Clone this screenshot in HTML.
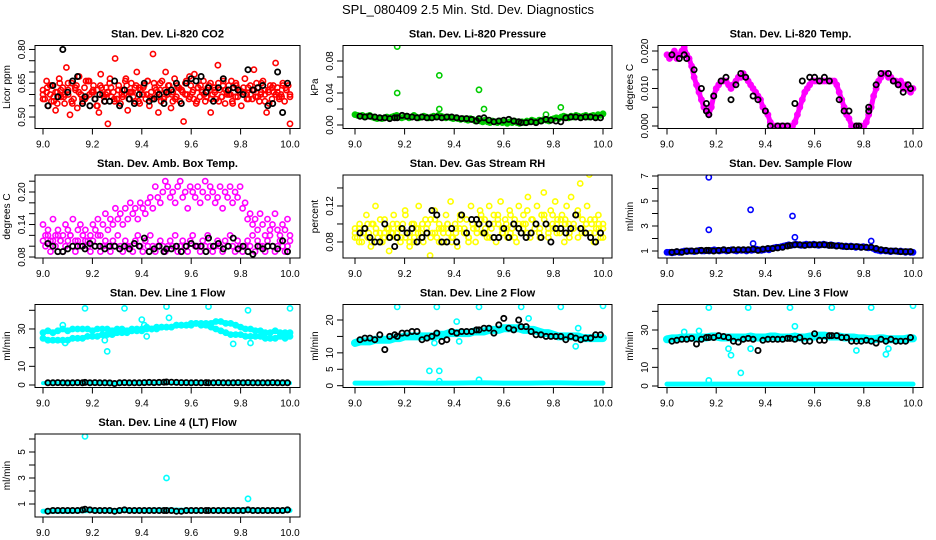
<!DOCTYPE html>
<html><head><meta charset="utf-8"><style>
body{margin:0;background:#fff;width:936px;height:540px;overflow:hidden}
svg{display:block;font-family:"Liberation Sans",Arial,sans-serif}
</style></head><body>
<svg id="chart" width="936" height="540" viewBox="0 0 936 540" xmlns="http://www.w3.org/2000/svg">
<rect width="936" height="540" fill="#fff"/>
<text x="468" y="14" text-anchor="middle" font-size="13">SPL_080409  2.5 Min. Std. Dev. Diagnostics</text>
</svg>
<script>
// ---- shared time stamps of black (sub-sampled) series ----
const blackTimes=[9.02,9.04,9.06,9.08,9.10,9.12,9.14,9.16,9.17,9.19,9.21,9.23,9.25,9.27,9.29,9.31,9.33,9.35,9.37,9.39,9.41,9.43,9.45,9.47,9.49,9.50,9.52,9.54,9.56,9.58,9.60,9.62,9.64,9.66,9.67,9.69,9.71,9.73,9.75,9.77,9.79,9.81,9.83,9.85,9.87,9.89,9.91,9.93,9.95,9.97,9.99];
const xTicks=[9.0,9.2,9.4,9.6,9.8,10.0];
const xTickLabels=["9.0","9.2","9.4","9.6","9.8","10.0"];
// ---- panel 1 CO2 ----
const co2Values=[0.62,0.58,0.66,0.55,0.60,0.64,0.57,0.53,0.61,0.67,0.59,0.63,0.56,0.72,0.60,0.51,0.65,0.58,0.62,0.54,0.68,0.60,0.57,0.63,0.59,0.66,0.55,0.61,0.64,0.58,0.62,0.52,0.69,0.60,0.57,0.63,0.47,0.65,0.59,0.61,0.76,0.58,0.64,0.56,0.62,0.60,0.67,0.53,0.61,0.65,0.59,0.63,0.70,0.57,0.62,0.60,0.64,0.58,0.66,0.55,0.61,0.78,0.63,0.59,0.52,0.62,0.66,0.58,0.70,0.60,0.64,0.54,0.61,0.67,0.59,0.63,0.57,0.62,0.48,0.65,0.60,0.58,0.64,0.61,0.69,0.56,0.63,0.59,0.62,0.66,0.57,0.61,0.64,0.52,0.60,0.63,0.58,0.73,0.62,0.59,0.66,0.56,0.61,0.64,0.60,0.57,0.63,0.65,0.59,0.62,0.55,0.61,0.67,0.60,0.58,0.64,0.62,0.71,0.59,0.63,0.57,0.61,0.66,0.60,0.52,0.62,0.64,0.58,0.61,0.74,0.63,0.59,0.60,0.65,0.57,0.62,0.64,0.47];
const co2Values2=[0.60,0.63,0.57,0.61,0.65,0.59,0.62,0.56,0.64,0.60,0.58,0.66,0.61,0.55,0.63,0.60,0.67,0.58,0.62,0.59,0.64,0.61,0.57,0.63,0.60,0.66,0.58,0.62,0.65,0.59,0.61,0.57,0.64,0.62,0.60,0.68,0.58,0.63,0.61,0.59,0.65,0.62,0.57,0.64,0.60,0.66,0.59,0.62,0.61,0.63,0.58,0.65,0.60,0.62,0.56,0.64,0.61,0.59,0.63,0.60];
const co2Values3=[0.58,0.61,0.64,0.59,0.56,0.62,0.60,0.65,0.57,0.63,0.61,0.58,0.66,0.60,0.62,0.55,0.64,0.59,0.61,0.63,0.57,0.62,0.60,0.66,0.58,0.61,0.64,0.56,0.63,0.60,0.59,0.65,0.61,0.57,0.62,0.64,0.60,0.58,0.63,0.61,0.66,0.59,0.62,0.57,0.64,0.60,0.63,0.58,0.61,0.65,0.59,0.62,0.60,0.56,0.64,0.61,0.63,0.58,0.60,0.62,0.59,0.65,0.57,0.61,0.63,0.60,0.58,0.64,0.62,0.59];
const co2Black=[0.55,0.64,0.59,0.80,0.61,0.66,0.68,0.56,0.59,0.55,0.58,0.60,0.57,0.57,0.66,0.55,0.62,0.58,0.56,0.60,0.65,0.57,0.58,0.60,0.56,0.61,0.62,0.65,0.56,0.65,0.67,0.66,0.68,0.61,0.63,0.57,0.63,0.67,0.62,0.63,0.62,0.60,0.71,0.62,0.63,0.64,0.55,0.56,0.70,0.52,0.65];
// ---- panel 2 pressure ----
const pressValues=[0.013,0.012,0.011,0.012,0.010,0.011,0.012,0.010,0.009,0.008,0.009,0.008,0.009,0.010,0.009,0.010,0.011,0.012,0.010,0.009,0.010,0.011,0.009,0.010,0.012,0.010,0.009,0.010,0.011,0.010,0.009,0.010,0.011,0.010,0.012,0.011,0.010,0.009,0.010,0.009,0.008,0.009,0.008,0.007,0.008,0.007,0.006,0.008,0.007,0.005,0.006,0.005,0.004,0.006,0.004,0.003,0.005,0.004,0.003,0.005,0.003,0.004,0.002,0.004,0.003,0.005,0.003,0.002,0.004,0.003,0.005,0.004,0.006,0.005,0.004,0.006,0.005,0.007,0.006,0.005,0.007,0.008,0.009,0.008,0.010,0.011,0.010,0.009,0.011,0.010,0.012,0.011,0.010,0.011,0.012,0.010,0.011,0.012,0.011,0.013,0.012,0.014];
const pressOutT=[9.17,9.17,9.34,9.34,9.50,9.52,9.77,9.83];
const pressOutV=[0.098,0.040,0.062,0.020,0.044,0.020,0.013,0.022];
const pressBlack=[0.011,0.010,0.011,0.010,0.009,0.009,0.008,0.009,0.009,0.012,0.011,0.010,0.009,0.010,0.009,0.009,0.010,0.009,0.010,0.010,0.009,0.008,0.008,0.007,0.005,0.008,0.009,0.006,0.004,0.005,0.006,0.007,0.005,0.004,0.003,0.003,0.004,0.003,0.005,0.007,0.006,0.005,0.004,0.009,0.010,0.010,0.009,0.010,0.010,0.009,0.009];
// ---- panel 3 Li-820 temp ----
const tempValues=[0.019,0.018,0.019,0.020,0.018,0.019,0.020,0.021,0.019,0.018,0.016,0.013,0.011,0.009,0.007,0.005,0.004,0.003,0.005,0.008,0.010,0.011,0.012,0.012,0.012,0.011,0.010,0.011,0.012,0.013,0.013,0.014,0.013,0.012,0.011,0.010,0.009,0.008,0.007,0.005,0.004,0.003,0.001,0.000,0.000,0.000,0.000,0.000,0.000,0.000,0.000,0.000,0.001,0.003,0.005,0.007,0.009,0.010,0.011,0.012,0.012,0.012,0.012,0.012,0.012,0.012,0.012,0.012,0.012,0.011,0.009,0.007,0.005,0.003,0.002,0.000,0.000,0.000,0.000,0.000,0.000,0.001,0.003,0.005,0.008,0.010,0.012,0.013,0.014,0.014,0.013,0.013,0.012,0.012,0.011,0.012,0.010,0.011,0.010,0.009,0.010];
const tempBlackT=[9.02,9.05,9.07,9.08,9.11,9.14,9.16,9.16,9.17,9.19,9.22,9.24,9.26,9.28,9.30,9.32,9.35,9.37,9.40,9.42,9.45,9.47,9.49,9.52,9.55,9.58,9.60,9.62,9.64,9.66,9.70,9.72,9.74,9.77,9.78,9.82,9.82,9.85,9.87,9.90,9.92,9.94,9.96,9.98,9.99];
const tempBlackV=[0.019,0.018,0.019,0.018,0.015,0.010,0.006,0.004,0.003,0.008,0.012,0.013,0.007,0.011,0.014,0.013,0.008,0.007,0.004,0.000,0.000,0.000,0.000,0.006,0.012,0.013,0.013,0.012,0.013,0.012,0.007,0.004,0.004,0.000,0.000,0.004,0.005,0.011,0.014,0.014,0.012,0.011,0.009,0.011,0.010];
// ---- panel 4 amb box temp ----
const ambUpper=[0.14,0.12,0.13,0.11,0.15,0.12,0.13,0.11,0.12,0.14,0.13,0.12,0.15,0.11,0.13,0.14,0.12,0.13,0.11,0.12,0.14,0.13,0.15,0.12,0.14,0.16,0.13,0.15,0.14,0.17,0.15,0.16,0.14,0.17,0.15,0.18,0.16,0.17,0.15,0.18,0.17,0.16,0.18,0.19,0.17,0.21,0.19,0.18,0.20,0.22,0.21,0.19,0.20,0.18,0.21,0.22,0.19,0.20,0.17,0.21,0.20,0.19,0.21,0.18,0.20,0.22,0.19,0.21,0.20,0.18,0.19,0.21,0.17,0.20,0.19,0.21,0.18,0.20,0.19,0.21,0.17,0.18,0.15,0.16,0.14,0.15,0.13,0.16,0.14,0.12,0.15,0.13,0.14,0.16,0.13,0.12,0.14,0.13,0.15,0.12];
const ambLower=[0.11,0.10,0.12,0.09,0.11,0.10,0.12,0.11,0.09,0.10,0.11,0.12,0.10,0.09,0.11,0.10,0.12,0.11,0.10,0.09,0.11,0.10,0.12,0.09,0.10,0.11,0.10,0.09,0.11,0.10,0.12,0.10,0.09,0.11,0.10,0.10,0.09,0.11,0.12,0.10,0.09,0.11,0.10,0.12,0.10,0.09,0.10,0.11,0.10,0.09,0.10,0.11,0.10,0.12,0.09,0.10,0.11,0.10,0.09,0.11,0.12,0.10,0.10,0.09,0.11,0.10,0.12,0.10,0.09,0.10,0.11,0.10,0.09,0.11,0.10,0.12,0.10,0.09,0.11,0.10,0.09,0.10,0.11,0.10,0.12,0.09,0.11,0.10,0.10,0.09,0.11,0.12,0.10,0.09,0.10,0.11,0.10,0.09,0.10,0.11];
const ambBlack=[0.105,0.10,0.09,0.09,0.095,0.10,0.10,0.10,0.095,0.105,0.10,0.10,0.095,0.10,0.10,0.095,0.10,0.095,0.105,0.10,0.115,0.09,0.095,0.10,0.09,0.095,0.095,0.10,0.09,0.10,0.105,0.10,0.10,0.09,0.115,0.10,0.105,0.095,0.10,0.115,0.095,0.10,0.09,0.085,0.10,0.095,0.10,0.10,0.095,0.11,0.09];
// ---- panel 5 gas stream RH ----
const rhValues=[0.09,0.085,0.10,0.08,0.095,0.11,0.09,0.075,0.10,0.12,0.085,0.09,0.08,0.105,0.095,0.07,0.09,0.11,0.085,0.095,0.08,0.10,0.115,0.09,0.075,0.10,0.085,0.095,0.12,0.09,0.08,0.105,0.10,0.065,0.09,0.115,0.085,0.10,0.095,0.08,0.11,0.09,0.125,0.085,0.10,0.075,0.095,0.11,0.09,0.105,0.085,0.12,0.095,0.08,0.10,0.115,0.09,0.105,0.085,0.12,0.095,0.11,0.08,0.10,0.125,0.09,0.105,0.085,0.115,0.095,0.10,0.08,0.12,0.09,0.11,0.10,0.13,0.085,0.105,0.095,0.12,0.09,0.11,0.135,0.10,0.085,0.115,0.095,0.125,0.105,0.09,0.11,0.08,0.12,0.10,0.13,0.095,0.11,0.085,0.145,0.105,0.09,0.12,0.155,0.10,0.08,0.095,0.11,0.085,0.10];
const rhValues2=[0.085,0.095,0.09,0.10,0.08,0.09,0.105,0.085,0.095,0.09,0.10,0.085,0.11,0.09,0.08,0.095,0.10,0.09,0.085,0.105,0.095,0.09,0.10,0.08,0.095,0.11,0.09,0.085,0.10,0.095,0.105,0.09,0.10,0.085,0.11,0.095,0.10,0.09,0.105,0.095,0.10,0.115,0.09,0.10,0.095,0.105,0.09,0.11,0.10,0.095,0.105,0.09,0.10,0.115,0.095,0.10,0.09,0.105,0.10,0.095];
const rhValues3=[0.095,0.08,0.09,0.085,0.10,0.095,0.08,0.09,0.085,0.10,0.09,0.095,0.085,0.08,0.10,0.09,0.085,0.095,0.105,0.09,0.08,0.095,0.10,0.085,0.09,0.105,0.095,0.08,0.10,0.09,0.11,0.095,0.085,0.10,0.105,0.09,0.095,0.11,0.085,0.10,0.095,0.09,0.105,0.10,0.085,0.11,0.095,0.10,0.09,0.105,0.10,0.085,0.095,0.11,0.09,0.10,0.105,0.09,0.095,0.085];
const rhBlack=[0.09,0.095,0.085,0.08,0.08,0.10,0.085,0.075,0.085,0.095,0.09,0.095,0.08,0.085,0.09,0.115,0.11,0.08,0.08,0.095,0.08,0.11,0.09,0.105,0.105,0.10,0.09,0.10,0.085,0.085,0.095,0.085,0.10,0.095,0.09,0.085,0.09,0.10,0.085,0.10,0.08,0.095,0.095,0.09,0.095,0.11,0.095,0.09,0.085,0.08,0.09];
// ---- panel 6 sample flow ----
const flowValues=[0.9,0.9,0.85,0.9,0.95,0.9,0.95,1.0,0.95,1.0,1.0,0.95,1.0,1.05,1.0,1.0,1.05,1.0,1.05,1.1,1.05,1.0,1.05,1.1,1.0,1.05,1.1,1.05,1.0,1.1,1.05,1.1,1.0,1.1,1.05,1.1,1.15,1.1,1.05,1.1,1.15,1.1,1.2,1.25,1.3,1.3,1.35,1.4,1.45,1.5,1.45,1.5,1.55,1.5,1.45,1.5,1.55,1.5,1.5,1.55,1.5,1.45,1.5,1.55,1.5,1.45,1.5,1.45,1.4,1.45,1.4,1.35,1.4,1.35,1.4,1.35,1.3,1.35,1.3,1.35,1.3,1.25,1.3,1.2,1.1,1.05,1.0,1.05,1.0,1.0,0.95,1.0,1.0,0.95,1.0,0.95,0.9,0.95,0.9,0.9];
const flowOutT=[9.17,9.17,9.34,9.35,9.51,9.52,9.83];
const flowOutV=[6.9,2.7,4.3,1.6,3.8,2.1,1.8];
const flowBlack=[0.9,0.95,0.9,1.0,1.0,1.0,1.05,1.05,1.05,1.0,1.05,1.1,1.05,1.1,1.1,1.1,1.1,1.15,1.05,1.15,1.2,1.2,1.25,1.3,1.4,1.45,1.5,1.5,1.45,1.5,1.5,1.5,1.5,1.45,1.45,1.4,1.4,1.35,1.35,1.35,1.3,1.3,1.3,1.2,1.1,1.05,1.0,1.0,0.95,0.95,0.95];
// ---- panel 7 line 1 flow ----
const l1Upper=[28,29,28,29,30,29,30,30,30,30,29,30,30,30,29,30,30,29,30,30,30,31,30,31,31,31,31,32,32,32,32,33,33,33,33,34,34,33,33,32,31,30,30,29,29,28,28,29,28,28,28];
const l1Lower=[25,24,24,24,24,24,25,25,25,26,26,26,27,27,27,28,28,28,29,29,29,30,30,30,31,31,31,32,32,32,33,33,32,32,31,30,29,28,27,27,27,26,26,26,26,25,25,25,26,25,26];
const l1Low=[1,1,1,1,1,1,1,1,1,1,1];
const l1OutT=[9.17,9.33,9.50,9.67,9.83,10.0,9.26,9.77,9.84,9.09,9.25,9.40,9.51,9.08,9.41,9.42];
const l1OutV=[41,41,42,42,40,41,18,22,22.5,22.5,24,35,36,32,32,26];
const l1Black=[1.2,1.2,1.3,1.2,1.1,1.2,1.3,1.2,1.4,1.2,1.3,1.2,1.2,1.1,0.8,1.2,1.3,1.2,1.2,1.2,1.3,1.4,1.3,1.4,1.5,1.6,1.5,1.4,1.3,1.3,1.2,1.3,1.2,1.3,1.2,1.2,1.3,1.2,1.2,1.2,1.3,1.2,1.3,1.2,1.2,1.2,1.2,1.3,1.2,1.2,1.2];
// ---- panel 8 line 2 flow ----
const l2Band=[13,13.5,13.5,13.5,14,14,14,14,14.5,14.5,15,15,15,15,15,15,15,15.5,15.5,16,16,16,16,16,16.5,16.5,16.5,17,17,17,17.5,17.5,17.5,17.5,17,17,17,16.5,16,16,15.5,15,15,15,15,15,14.5,14.5,14.5,14.5,14.5];
const l2Low=[0.8,0.8,0.9,0.8,0.8,0.9,0.8,0.8,0.9,0.8,0.8];
const l2OutT=[9.17,9.33,9.50,9.67,9.83,10.0,9.30,9.34,9.32,9.41,9.42,9.70,9.89,9.90,9.50,9.34];
const l2OutV=[24,24,24,24,24,24.3,4.5,4.5,13,19.5,13.5,20.5,12,17.5,1.8,1.4];
const l2Black=[14,14.5,14.5,14,15.5,11,15,15.5,15,16,16,16.5,16.5,14,14.5,15,16,13.5,14,16.5,16,16.5,16.5,16.5,17,17,17.5,17.5,16,18.5,20.5,17.5,17,20,18,18,16.5,15.5,15.5,15,15,15,15,14,15,14.5,14,14.5,14.5,15.5,15.5];
// ---- panel 9 line 3 flow ----
const l3Band=[25,25.5,25.5,26,26,26,26,26,26,26.5,26.5,26,26,26,26,26,26,26.5,26,26,26,26.5,26.5,26,26,26,26.5,26,26,26.5,26.5,27,27,26.5,26.5,26.5,26,26,26,25.5,25.5,25,25,25.5,25.5,25,25,25,25,25.5,25.5];
const l3Low=[1,1,1,1,1,1,1,1,1,1,1];
const l3OutT=[9.17,9.33,9.50,9.67,9.83,10.0,9.52,9.30,9.26,9.25,9.34,9.77,9.89,9.90,9.17,9.07,9.13];
const l3OutV=[42,42,42,42,42,43,32,7,16.5,20,20,19,17,20,3,29,29.5];
const l3Black=[24,24.5,25,25,25.5,22.5,25,26,26,26,27,26.5,26,24,23.5,25,25.5,25,19,24.5,25,25,25,25,25.5,25.5,25,26,24,24,28,24.5,24.5,27,27,27,26,26,24,24,24,24.5,24,23,25,24,25,24,24,24,26];
// ---- panel 10 line 4 flow ----
const l4Band=[0.45,0.45,0.5,0.5,0.5,0.55,0.5,0.5,0.55,0.5,0.5];
const l4OutT=[9.17,9.50,9.83];
const l4OutV=[6.2,3.0,1.4];
const l4Black=[0.45,0.5,0.5,0.5,0.5,0.5,0.5,0.55,0.6,0.55,0.5,0.5,0.5,0.5,0.45,0.5,0.55,0.5,0.5,0.5,0.5,0.5,0.5,0.5,0.5,0.5,0.5,0.45,0.45,0.5,0.5,0.5,0.5,0.5,0.5,0.5,0.5,0.5,0.5,0.5,0.5,0.5,0.55,0.5,0.5,0.5,0.5,0.5,0.5,0.5,0.55];

const NS='http://www.w3.org/2000/svg';
const svg=document.getElementById('chart');
const colL=[35,343,658], colW=[265,269,265], tick0=[43,355,667], tick1=[290,603,913];
const rowT=[45.5,175,304.5,434], boxH=83;
function el(tag,attrs,parent){const e=document.createElementNS(NS,tag);for(const k in attrs)e.setAttribute(k,attrs[k]);(parent||svg).appendChild(e);return e;}
function uniformTimes(n){const t=[];for(let i=0;i<n;i++)t.push(9+i/(n-1));return t;}

function panel(cfg){
  const L=colL[cfg.col],W=colW[cfg.col],T=rowT[cfg.row],B=T+boxH;
  const g=el('g',{});
  
  
  const xs=t=>tick0[cfg.col]+(t-9)*(tick1[cfg.col]-tick0[cfg.col]);
  const ys=v=>B-(v-cfg.ymin)/(cfg.ymax-cfg.ymin)*boxH;
  const t=el('text',{x:L+W/2,y:T-8,'text-anchor':'middle','font-size':11,'font-weight':'bold'},g);
  t.textContent=cfg.title;
  
  
  const xa=el('g',{},g);
  
  
  xTicks.forEach((v,i)=>{
    el('line',{x1:xs(v),x2:xs(v),y1:B,y2:B+6,stroke:'#000','stroke-width':1},xa);
    const tl=el('text',{x:xs(v),y:B+19,'text-anchor':'middle','font-size':10},xa);
    tl.textContent=xTickLabels[i];
    
    
  });
  const ya=el('g',{},g);
  
  
  cfg.yTicks.forEach(v=>{el('line',{x1:L-6,x2:L,y1:ys(v),y2:ys(v),stroke:'#000','stroke-width':1},ya);});
  cfg.yLabels.forEach(s=>{
    const y=ys(parseFloat(s));
    const tl=el('text',{x:L-10,y:y,'text-anchor':'middle','font-size':10,transform:`rotate(-90 ${L-10} ${y})`},ya);
    tl.textContent=s;
    
    
  });
  const yl=el('text',{x:L-25,y:(T+B)/2,'text-anchor':'middle','font-size':10,transform:`rotate(-90 ${L-25} ${(T+B)/2})`},g);
  yl.textContent=cfg.ylab;
  
  
  const cid='c'+cfg.col+cfg.row;
  const cp=el('clipPath',{id:cid},g);el('rect',{x:L,y:T,width:W,height:boxH},cp);
  const pg=el('g',{'clip-path':`url(#${cid})`},g);
  cfg.series.forEach(s=>{
    const times=s.t||uniformTimes(s.v.length);
    const n=Math.min(times.length,s.v.length);
    if(s.band){
      let d='';for(let i=0;i<n;i++)d+=(i?'L':'M')+xs(times[i]).toFixed(1)+' '+ys(s.v[i]).toFixed(1);
      const p=el('path',{d:d,fill:'none',stroke:s.color,'stroke-width':s.band,'stroke-linejoin':'round','stroke-linecap':'round'},pg);
      
      
    }
    if(s.noPts)return;
    for(let i=0;i<n;i++){
      const c=el('circle',{cx:xs(times[i]).toFixed(1),cy:ys(s.v[i]).toFixed(1),r:2.6,fill:'none',stroke:s.color,'stroke-width':s.sw||1.6},pg);
      
      
    }
  });
  const bx=el('rect',{x:L,y:T,width:W,height:boxH,fill:'none',stroke:'#000','stroke-width':1},g);
  
  
}

const RED='#ff0000',GRN='#00cc00',MAG='#ff00ff',YEL='#ffff00',BLU='#0000ff',CYN='#00ffff',BLK='#000';
panel({name:'co2-panel',col:0,row:0,title:'Stan. Dev. Li-820 CO2',ylab:'Licor ppm',ymin:0.449,ymax:0.8176,
  yTicks:[0.50,0.55,0.60,0.65,0.70,0.75,0.80],yLabels:['0.50','0.65','0.80'],
  series:[{name:'co2',v:co2Values,color:RED},{name:'co2-extra',v:co2Values2,color:RED},{name:'co2-extra2',v:co2Values3,color:RED},{name:'co2-black',t:blackTimes,v:co2Black,color:BLK,sw:1.8}]});
panel({name:'pressure-panel',col:1,row:0,title:'Stan. Dev. Li-820 Pressure',ylab:'kPa',ymin:-0.0044,ymax:0.0994,
  yTicks:[0,0.02,0.04,0.06,0.08],yLabels:['0.00','0.04','0.08'],
  series:[{name:'pressure',v:pressValues,color:GRN,band:5},{name:'pressure-outlier',t:pressOutT,v:pressOutV,color:GRN},{name:'pressure-black',t:blackTimes,v:pressBlack,color:BLK,sw:1.8}]});
panel({name:'temp-panel',col:2,row:0,title:'Stan. Dev. Li-820 Temp.',ylab:'degrees C',ymin:-0.00067,ymax:0.02147,
  yTicks:[0,0.005,0.010,0.015,0.020],yLabels:['0.000','0.010','0.020'],
  series:[{name:'temp',v:tempValues,color:MAG,band:5},{name:'temp-black',t:tempBlackT,v:tempBlackV,color:BLK,sw:1.8}]});
panel({name:'amb-box-panel',col:0,row:1,title:'Stan. Dev. Amb. Box Temp.',ylab:'degrees C',ymin:0.0782,ymax:0.2314,
  yTicks:[0.08,0.10,0.12,0.14,0.16,0.18,0.20,0.22],yLabels:['0.08','0.14','0.20'],
  series:[{name:'amb-upper',v:ambUpper,color:MAG},{name:'amb-lower',v:ambLower,color:MAG},{name:'amb-black',t:blackTimes,v:ambBlack,color:BLK,sw:1.8}]});
panel({name:'rh-panel',col:1,row:1,title:'Stan. Dev. Gas Stream RH',ylab:'percent',ymin:0.0622,ymax:0.1544,
  yTicks:[0.08,0.10,0.12,0.14],yLabels:['0.08','0.12'],
  series:[{name:'rh',v:rhValues,color:YEL},{name:'rh-extra',v:rhValues2,color:YEL},{name:'rh-extra2',v:rhValues3,color:YEL},{name:'rh-black',t:blackTimes,v:rhBlack,color:BLK,sw:1.8}]});
panel({name:'sample-flow-panel',col:2,row:1,title:'Stan. Dev. Sample Flow',ylab:'ml/min',ymin:0.44,ymax:7.08,
  yTicks:[1,2,3,4,5,6,7],yLabels:['1','3','5','7'],
  series:[{name:'flow',v:flowValues,color:BLU,band:5},{name:'flow-outlier',t:flowOutT,v:flowOutV,color:BLU},{name:'flow-black',t:blackTimes,v:flowBlack,color:BLK,sw:1.8}]});
panel({name:'line1-panel',col:0,row:2,title:'Stan. Dev. Line 1 Flow',ylab:'ml/min',ymin:-1.34,ymax:43.1,
  yTicks:[0,10,20,30,40],yLabels:['0','10','30'],
  series:[{name:'line1-upper',v:l1Upper,color:CYN,band:5},{name:'line1-lower',v:l1Lower,color:CYN,band:5},{name:'line1-low',v:l1Low,color:CYN,band:4,noPts:true},{name:'line1-outlier',t:l1OutT,v:l1OutV,color:CYN},{name:'line1-black',t:blackTimes,v:l1Black,color:BLK,sw:1.8}]});
panel({name:'line2-panel',col:1,row:2,title:'Stan. Dev. Line 2 Flow',ylab:'ml/min',ymin:-0.55,ymax:24.72,
  yTicks:[0,5,10,15,20],yLabels:['0','5','10','20'],
  series:[{name:'line2',v:l2Band,color:CYN,band:8},{name:'line2-low',v:l2Low,color:CYN,band:5,noPts:true},{name:'line2-outlier',t:l2OutT,v:l2OutV,color:CYN},{name:'line2-black',t:blackTimes,v:l2Black,color:BLK,sw:1.8}]});
panel({name:'line3-panel',col:2,row:2,title:'Stan. Dev. Line 3 Flow',ylab:'ml/min',ymin:-0.8,ymax:43.66,
  yTicks:[0,10,20,30,40],yLabels:['0','10','30'],
  series:[{name:'line3',v:l3Band,color:CYN,band:8},{name:'line3-low',v:l3Low,color:CYN,band:5,noPts:true},{name:'line3-outlier',t:l3OutT,v:l3OutV,color:CYN},{name:'line3-black',t:blackTimes,v:l3Black,color:BLK,sw:1.8}]});
panel({name:'line4-panel',col:0,row:3,title:'Stan. Dev. Line 4 (LT) Flow',ylab:'ml/min',ymin:0.0,ymax:6.385,
  yTicks:[1,2,3,4,5,6],yLabels:['1','3','5'],
  series:[{name:'line4',v:l4Band,color:CYN,band:5,noPts:true},{name:'line4-outlier',t:l4OutT,v:l4OutV,color:CYN},{name:'line4-black',t:blackTimes,v:l4Black,color:BLK,sw:1.8}]});
</script>
</body></html>
